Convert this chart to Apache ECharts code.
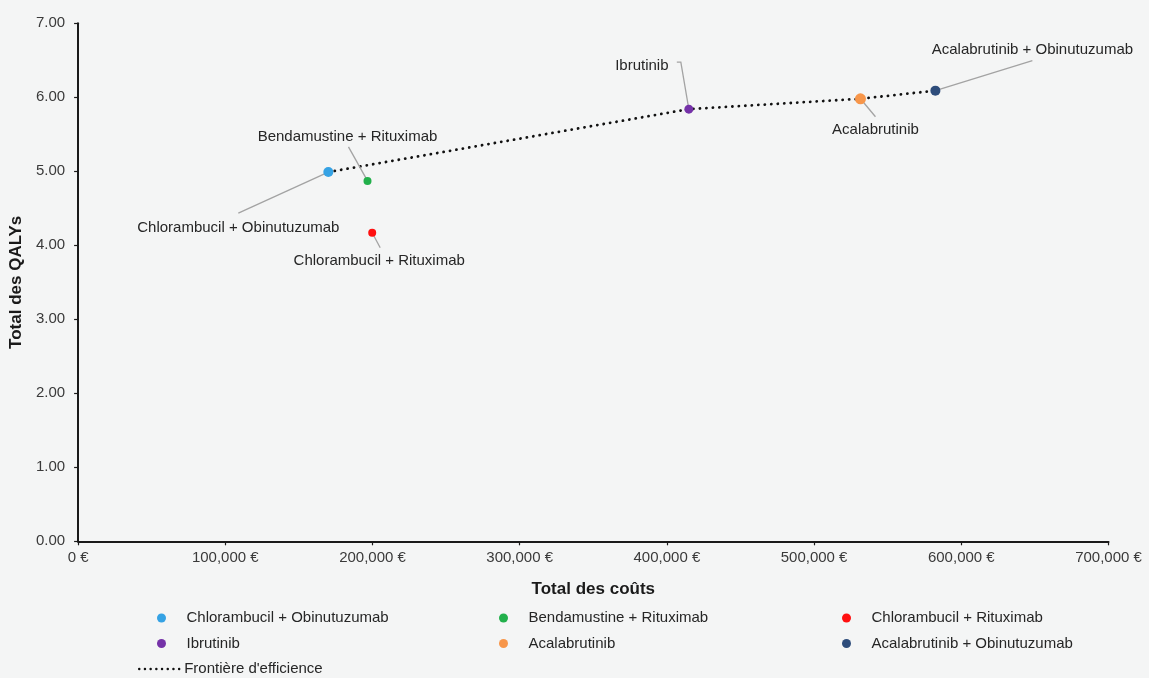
<!DOCTYPE html>
<html>
<head>
<meta charset="utf-8">
<script src="https://cdn.jsdelivr.net/npm/echarts@6/dist/echarts.min.js"></script>
<style>
  html, body { margin: 0; padding: 0; background: #f4f5f5; }
  #chart { width: 1149px; height: 678px; }
</style>
</head>
<body>
<div id="chart"></div>
<script>
// Treatment strategies: total cost (€) and total QALYs
const treatments = [
  'Chlorambucil + Obinutuzumab',
  'Bendamustine + Rituximab',
  'Chlorambucil + Rituximab',
  'Ibrutinib',
  'Acalabrutinib',
  'Acalabrutinib + Obinutuzumab'
];
const totalCosts = [170000, 196600, 199800, 414900, 531500, 582400];
const totalQalys = [4.99, 4.87, 4.17, 5.84, 5.98, 6.09];

// Strategies lying on the efficiency frontier, in cost order
const frontierMembers = ['Chlorambucil + Obinutuzumab', 'Ibrutinib', 'Acalabrutinib', 'Acalabrutinib + Obinutuzumab'];
const frontierName = "Frontière d'efficience";

// Axis ranges
const costTicks = [0, 100000, 200000, 300000, 400000, 500000, 600000, 700000];
const qalyTicks = [0, 1, 2, 3, 4, 5, 6, 7];

// Presentation per strategy
const colors = ['#35a2e4', '#22b04b', '#ff1010', '#7532a8', '#f7964a', '#2e4d7b'];
const sizes = [10, 8, 8, 9, 11, 10];
// label centre, in pixels relative to the marker
const labelShift = [
  { dx: -90, dy: 56 },
  { dx: -20, dy: -44 },
  { dx: 7, dy: 28 },
  { dx: -47, dy: -43 },
  { dx: 15, dy: 31 },
  { dx: 97, dy: -41 }
];
// leader line bends, in pixels relative to the marker
const leaderPaths = [
  [[-90, 41]],
  [[-19, -34]],
  [[8, 15]],
  [[-8, -47], [-12, -47]],
  [[15, 18]],
  [[97, -30]]
];

const FONT = "'Liberation Sans', Arial, sans-serif";

const pointSeries = treatments.map((name, i) => ({
  name: name,
  type: 'scatter',
  z: 4,
  symbol: 'circle',
  symbolSize: sizes[i],
  itemStyle: { color: colors[i], opacity: 1 },
  data: [[totalCosts[i], totalQalys[i]]],
  label: {
    show: true,
    position: 'inside',
    formatter: name,
    color: '#262626',
    fontFamily: FONT,
    fontSize: 15
  },
  labelLayout: labelShift[i],
  emphasis: { disabled: true }
}));

// Leader lines from each marker toward its label
const leaderSeries = {
  type: 'custom',
  z: 3,
  silent: true,
  data: treatments.map((n, i) => [totalCosts[i], totalQalys[i], i]),
  renderItem: function (params, api) {
    const p = api.coord([api.value(0), api.value(1)]);
    const path = leaderPaths[api.value(2)];
    const pts = [p].concat(path.map(o => [p[0] + o[0], p[1] + o[1]]));
    return {
      type: 'polyline',
      shape: { points: pts },
      style: { stroke: '#a3a3a3', lineWidth: 1.3, fill: null }
    };
  }
};

const frontierData = frontierMembers.map(n => {
  const i = treatments.indexOf(n);
  return [totalCosts[i], totalQalys[i]];
});

const frontierDash = { color: '#111', width: 2.8, type: [0.1, 6.4], cap: 'round' };
const frontierSeries = {
  name: frontierName,
  type: 'line',
  z: 2,
  symbol: 'none',
  showSymbol: false,
  itemStyle: { color: '#111' },
  data: frontierData,
  lineStyle: frontierDash,
  emphasis: { disabled: true }
};

const legendText = { color: '#262626', fontFamily: FONT, fontSize: 15, lineHeight: 16 };
function columnLegend(left, names) {
  return {
    orient: 'vertical',
    left: left,
    top: 605,
    itemWidth: 40,
    itemHeight: 9,
    itemGap: 9.5,
    icon: 'circle',
    selectedMode: false,
    textStyle: legendText,
    data: names
  };
}

const option = {
  backgroundColor: '#f4f5f5',
  animation: false,
  grid: { left: 76, right: 40.5, top: 23.3, bottom: 136.7, containLabel: false },
  xAxis: {
    type: 'value',
    min: costTicks[0],
    max: costTicks[costTicks.length - 1],
    interval: costTicks[1] - costTicks[0],
    name: 'Total des coûts',
    nameLocation: 'middle',
    nameGap: 40,
    nameTextStyle: { color: '#1a1a1a', fontFamily: FONT, fontSize: 17, fontWeight: 'bold' },
    axisLine: { show: true, lineStyle: { color: '#1a1a1a', width: 2 } },
    axisTick: { show: true, length: 4, lineStyle: { color: '#1a1a1a', width: 1.2 } },
    axisLabel: {
      color: '#3a3a3a', fontFamily: FONT, fontSize: 15, margin: 9,
      formatter: v => v.toLocaleString('en-US') + ' €'
    },
    splitLine: { show: false }
  },
  yAxis: {
    type: 'value',
    min: qalyTicks[0],
    max: qalyTicks[qalyTicks.length - 1],
    interval: qalyTicks[1] - qalyTicks[0],
    name: 'Total des QALYs',
    nameLocation: 'middle',
    nameGap: 47,
    nameTextStyle: { color: '#1a1a1a', fontFamily: FONT, fontSize: 17, fontWeight: 'bold' },
    axisLine: { show: true, lineStyle: { color: '#1a1a1a', width: 2 } },
    axisTick: { show: true, length: 4, lineStyle: { color: '#1a1a1a', width: 1.2 } },
    axisLabel: {
      color: '#3a3a3a', fontFamily: FONT, fontSize: 15, margin: 13,
      formatter: v => v.toFixed(2)
    },
    splitLine: { show: false }
  },
  legend: [
    columnLegend(152, [treatments[0], treatments[3]]),
    columnLegend(494, [treatments[1], treatments[4]]),
    columnLegend(837, [treatments[2], treatments[5]]),
    {
      orient: 'vertical',
      left: 133,
      top: 656,
      itemWidth: 40,
      itemHeight: 9,
      selectedMode: false,
      textStyle: legendText,
      itemStyle: { opacity: 0 },
      lineStyle: { color: '#111', width: 2.4, type: [0.1, 5.6], cap: 'round' },
      data: [frontierName]
    }
  ],
  series: [frontierSeries, leaderSeries].concat(pointSeries)
};

const chart = echarts.init(document.getElementById('chart'), null, { renderer: 'canvas' });
chart.setOption(option);
</script>
</body>
</html>
